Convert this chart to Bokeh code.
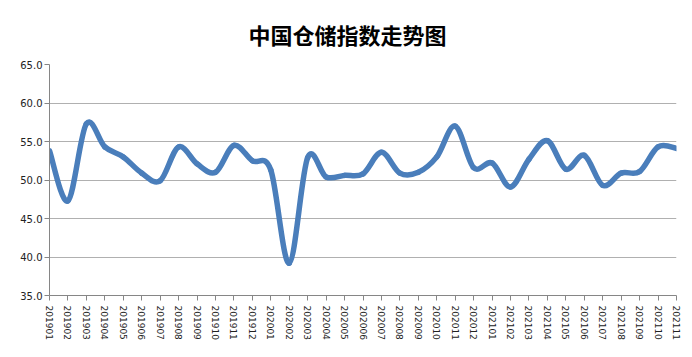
import numpy as np
from bokeh.plotting import figure
from bokeh.models import FixedTicker, Range1d, PrintfTickFormatter
from bokeh.embed import file_html
from bokeh.resources import INLINE

months = ["201901", "201902", "201903", "201904", "201905", "201906", "201907",
          "201908", "201909", "201910", "201911", "201912", "202001", "202002",
          "202003", "202004", "202005", "202006", "202007", "202008", "202009",
          "202010", "202011", "202012", "202101", "202102", "202103", "202104",
          "202105", "202106", "202107", "202108", "202109", "202110", "202111"]
values = [53.8, 47.3, 57.3, 54.3, 53.0, 50.9, 49.9,
          54.3, 52.1, 51.0, 54.5, 52.5, 51.3, 39.2,
          52.9, 50.4, 50.6, 50.8, 53.6, 50.9, 51.0,
          53.0, 57.0, 51.6, 52.2, 49.1, 52.7, 55.1,
          51.4, 53.2, 49.3, 50.9, 51.1, 54.3, 54.1]
y_ticks = [35, 40, 45, 50, 55, 60, 65]
title_text = "中国仓储指数走势图"

n = len(values)
X = np.arange(n, dtype=float)
P = np.array(values, dtype=float)
Xe = np.concatenate([[X[0]], X, [X[-1]]])
Pe = np.concatenate([[P[0]], P, [P[-1]]])
i = np.arange(n - 1)
x0, y0 = X[i], P[i]
x1, y1 = X[i + 1], P[i + 1]
cx0 = X[i] + (Xe[i + 2] - Xe[i]) / 6.0
cy0 = P[i] + (Pe[i + 2] - Pe[i]) / 6.0
cx1 = X[i + 1] - (Xe[i + 3] - Xe[i + 1]) / 6.0
cy1 = P[i + 1] - (Pe[i + 3] - Pe[i + 1]) / 6.0

p = figure(width=692, height=357, output_backend="svg", toolbar_location=None,
           x_range=Range1d(0, n - 1), y_range=Range1d(35, 65),
           min_border_left=49, min_border_right=16, min_border_top=64, min_border_bottom=62)

p.title.text = title_text
p.title.align = "left"
p.title.offset = 199
p.title.text_font = "Noto Sans CJK SC"
p.title.text_font_size = "22px"
p.title.text_font_style = "bold"
p.title.text_color = "#000000"
p.title.standoff = 30

p.bezier(x0=x0, y0=y0, x1=x1, y1=y1, cx0=cx0, cy0=cy0, cx1=cx1, cy1=cy1,
         line_color="#4a7ebb", line_width=5.5, line_cap="round")

p.outline_line_color = None
p.background_fill_color = "white"
p.border_fill_color = "white"
p.xgrid.grid_line_color = None
p.ygrid.grid_line_color = "#b0b0b0"
p.ygrid.grid_line_width = 1

p.yaxis.ticker = FixedTicker(ticks=y_ticks)
p.yaxis.formatter = PrintfTickFormatter(format="%.1f")
p.xaxis.ticker = FixedTicker(ticks=list(range(n)))
p.xaxis.major_label_overrides = {k: m for k, m in enumerate(months)}
p.xaxis.major_label_orientation = "vertical"

for ax in (p.xaxis, p.yaxis):
    ax.axis_line_color = "#868686"
    ax.major_tick_line_color = "#868686"
    ax.major_tick_out = 5
    ax.major_tick_in = 0
    ax.minor_tick_line_color = None
    ax.major_label_text_font = "DejaVu Sans"
    ax.major_label_text_color = "#222222"
p.yaxis.major_label_text_font_size = "10px"
p.xaxis.major_label_text_font_size = "9px"
p.yaxis.major_label_standoff = 2
p.xaxis.major_label_standoff = 5

open("out.html", "w").write(file_html(p, INLINE))
